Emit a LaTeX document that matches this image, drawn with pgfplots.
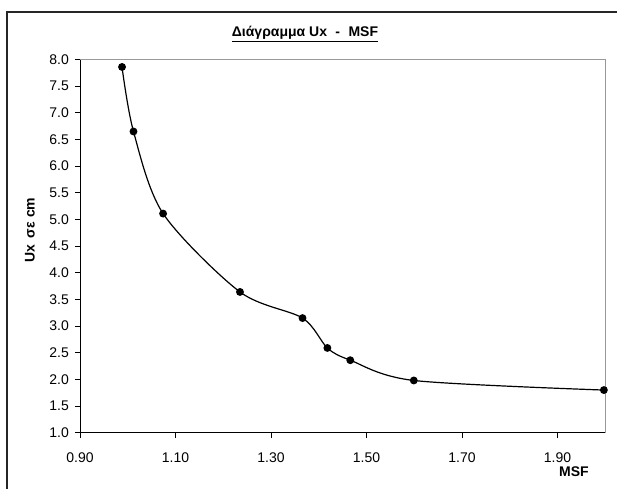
\documentclass[border=0pt]{standalone}
\usepackage{fontspec}
\setmainfont{Liberation Sans}
\usepackage{pgfplots}
\pgfplotsset{compat=1.18}

\begin{document}
\fontsize{14}{17}\selectfont
\begin{tikzpicture}[x=1pt,y=1pt]
% chart frame (left and top edges visible)
\draw[line width=2.2pt, black!85] (7,-11) -- (7,-500);
\draw[line width=1.4pt, black!85] (6,-12) -- (640,-12);

\begin{axis}[
    at={(80pt,-432.7pt)}, anchor=south west,
    scale only axis,
    width=525.3pt, height=373.2pt,
    xmin=0.9, xmax=2.0,
    ymin=1, ymax=8,
    xtick={0.9,1.1,1.3,1.5,1.7,1.9},
    ytick={1,1.5,2,2.5,3,3.5,4,4.5,5,5.5,6,6.5,7,7.5,8},
    tick pos=left, tick align=outside,
    major tick length=5pt,
    tick style={black, line width=0.8pt},
    axis line style={draw=black!40, line width=1pt},
    ticklabel style={font=\fontsize{14}{17}\selectfont},
    /pgf/number format/assume math mode=true,
    xticklabel style={/pgf/number format/.cd, fixed, fixed zerofill, precision=2, /tikz/.cd, yshift=-10.5pt},
    yticklabel style={/pgf/number format/.cd, fixed, fixed zerofill, precision=1, /tikz/.cd, xshift=-1.3pt},
    clip=false,
]
\addplot[black, line width=1.2pt, smooth, mark=*, mark size=3.3pt,
         mark options={fill=black, solid}] coordinates {
    (0.988,7.86) (1.012,6.65) (1.074,5.11) (1.235,3.64) (1.366,3.15)
    (1.418,2.59) (1.466,2.36) (1.599,1.98) (1.997,1.80)
};
\draw[black, line width=1pt] (rel axis cs:0,1) -- (rel axis cs:0,0) -- (rel axis cs:1,0);
\end{axis}

\node[font=\bfseries] at (305,-34) {\underline{Διάγραμμα Ux\hspace{0.6em}-\hspace{0.6em}MSF}};
\node[font=\bfseries, rotate=90] at (30,-230) {Ux\hspace{0.45em}σε cm};
\node[font=\bfseries] at (574,-472) {MSF};

\pgfresetboundingbox
\path[use as bounding box] (0,0) rectangle (617,-488);
\end{tikzpicture}
\end{document}
